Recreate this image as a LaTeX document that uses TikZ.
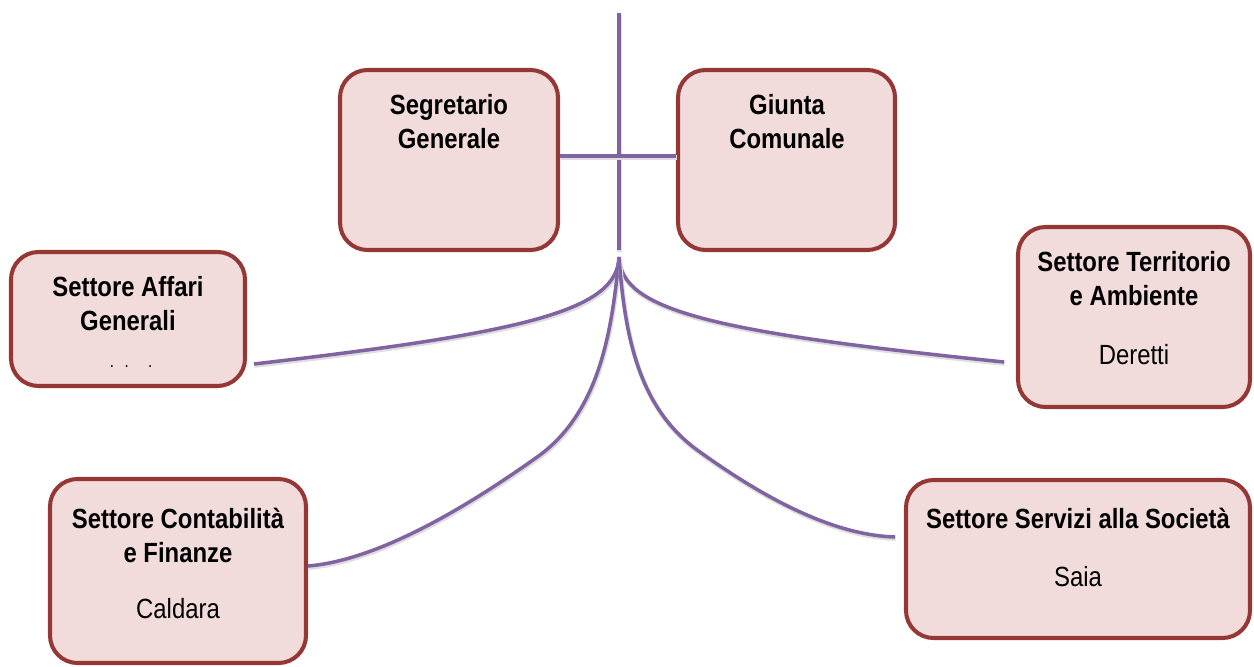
\documentclass[tikz,border=0pt]{standalone}
\usepackage{fontspec}
\setmainfont{Liberation Sans}[FakeStretch=0.86]
\usepackage{tikz}
\usetikzlibrary{calc,positioning}
\definecolor{bordoRosso}{HTML}{953735}
\definecolor{rosaChiaro}{HTML}{F2DCDB}
\definecolor{viola}{HTML}{8064A2}

\begin{document}
\begin{tikzpicture}[x=0.02cm, y=-0.02cm,
  every node/.style={font=\fontsize{15.8pt}{19.3pt}\selectfont, inner sep=0pt},
  ufficio/.style 2 args={draw=bordoRosso, fill=rosaChiaro, line width=2.3pt, rounded corners=0.55cm,
    minimum width=#1*0.02cm, minimum height=#2*0.02cm},
  titolo/.style={font=\fontsize{15.8pt}{19.3pt}\selectfont\bfseries, align=center},
  nome/.style={align=center},
  ramo/.style={draw=viola, line width=2pt,
    preaction={draw=black!13, line width=2.6pt, transform canvas={xshift=0.4pt, yshift=-0.9pt}}}]
\useasboundingbox (0,0) rectangle (1254,666);

\node[ufficio={218}{180}] (sg) at (449,160) {};
\node[ufficio={217}{180}] (gc) at (786.5,160) {};
\node[ufficio={234}{134}] (af) at (128,319) {};
\node[ufficio={232}{180}] (ta) at (1134,317) {};
\node[ufficio={256}{184}] (cf) at (178,571) {};
\node[ufficio={344}{158}] (ss) at (1078,559) {};

\node[titolo] (sgT) at (449,122) {Segretario\\Generale};
\node[titolo] (gcT) at (787,122) {Giunta\\Comunale};
\node[titolo] (afT) at (128,304) {Settore Affari\\Generali};
\node[font=\fontsize{10pt}{11pt}\selectfont] (afN) at (131,367) {.\hspace{6pt}.\hspace{11pt}.};
\node[titolo] (taT) at (1134,279) {Settore Territorio\\e Ambiente};
\node[nome] (taN) at (1134,355) {Deretti};
\node[titolo] (cfT) at (178,535) {Settore Contabilità\\e Finanze};
\node[nome] (cfN) at (178,609) {Caldara};
\node[titolo] (ssT) at (1078,518) {Settore Servizi alla Società};
\node[nome] (ssN) at (1078,577) {Saia};

\coordinate (cima) at (619,13);
\coordinate (stacco) at (619,250);
\coordinate (hub) at (619,257);
\coordinate (afE) at (254,364);
\coordinate (taW) at (1004,362);
\coordinate (cfE) at (308,566);
\coordinate (ssW) at (895,537);

\path[ramo] (cima) -- (stacco);
\path[ramo] ($(sg.east)+(0,-4)$) -- ($(gc.west)+(0,-4)$);
\path[ramo] (hub) .. controls (617,310) and (530,332) .. (afE);
\path[ramo] (hub) .. controls (621,310) and (710,332) .. (taW);
\path[ramo] (hub) .. controls (612,330) and (600,410) .. (540,455)
  .. controls (470,505) and (380,560) .. (cfE);
\path[ramo] (hub) .. controls (625,340) and (640,410) .. (700,452)
  .. controls (760,495) and (830,535) .. (ssW);
\end{tikzpicture}
\end{document}
